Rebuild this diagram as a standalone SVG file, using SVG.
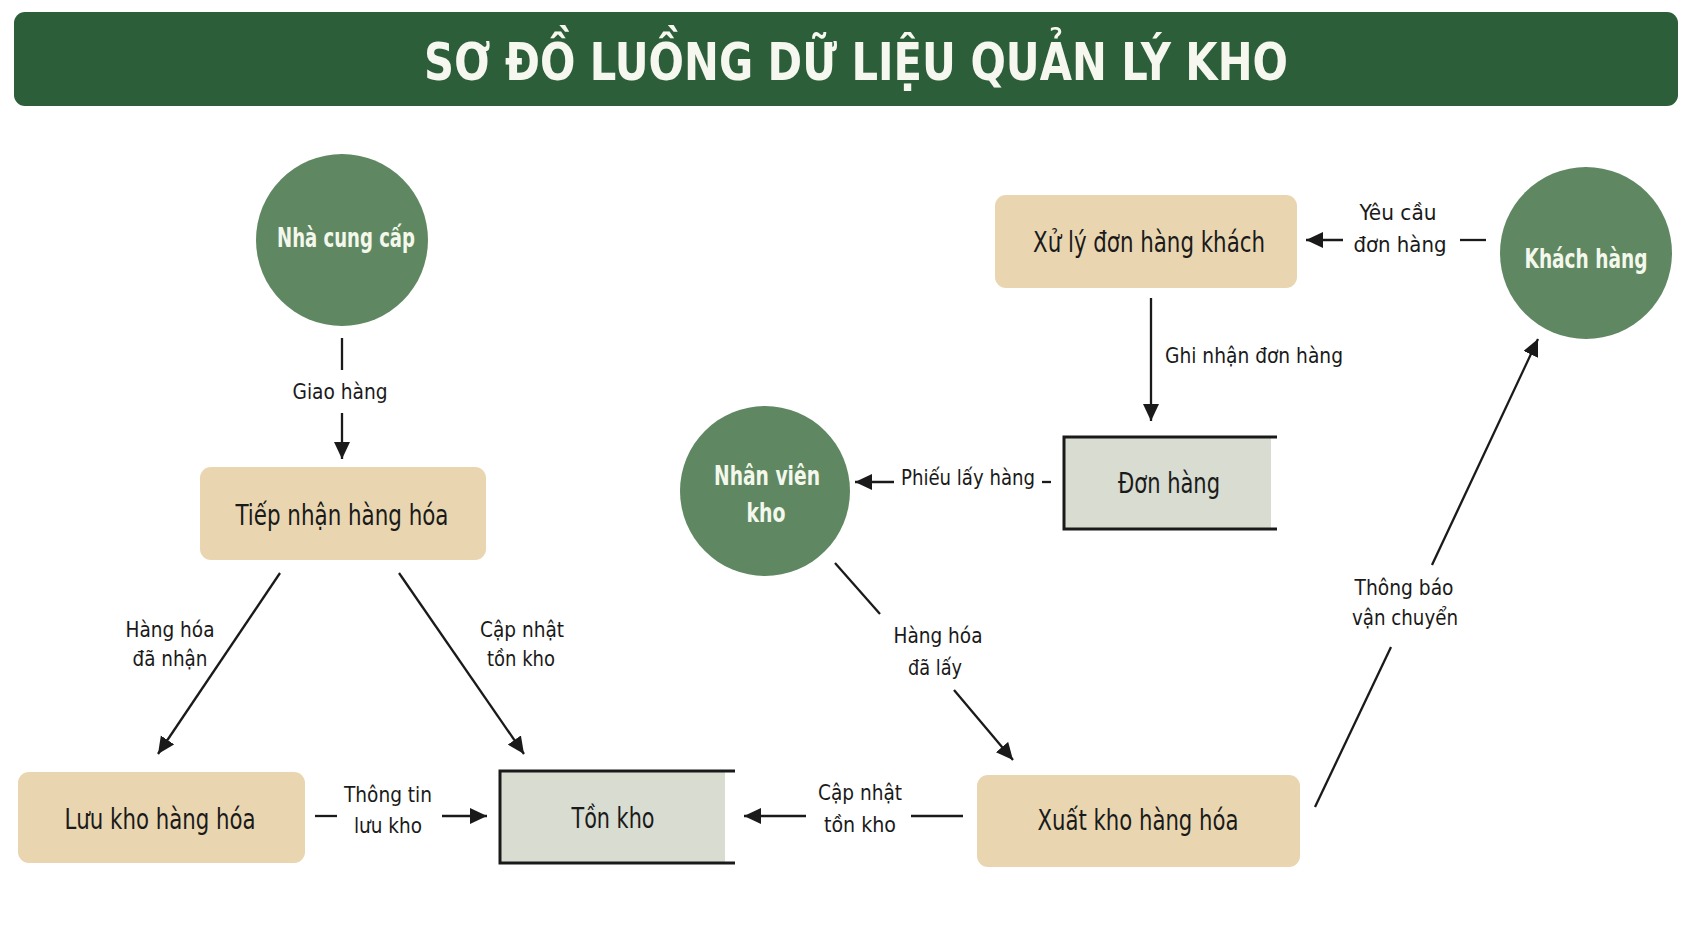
<svg xmlns="http://www.w3.org/2000/svg" width="1693" height="929" viewBox="0 0 1693 929">
<style>
text{font-family:"Liberation Sans Narrow","DejaVu Sans Condensed","Liberation Sans",sans-serif;}
.title{font-size:52px;font-weight:bold;fill:#F6F8F0;}
.box{fill:#E9D6B1;}
.store{fill:#D8DCD1;}
.storeline{stroke:#1A1A1A;stroke-width:3;fill:none;}
.circ{fill:#5F8862;}
.nt{font-size:28px;fill:#1A1A1A;text-anchor:middle;}
.ct{font-size:27px;font-weight:bold;fill:#F4F8EC;text-anchor:middle;}
.lbl{font-size:22px;fill:#1A1A1A;text-anchor:middle;}
.ln{stroke:#1A1A1A;stroke-width:2.3;fill:none;}
.ar{stroke:#1A1A1A;stroke-width:2.3;fill:none;marker-end:url(#ah);}
</style>
<defs>
<marker id="ah" markerUnits="userSpaceOnUse" markerWidth="18" markerHeight="18" refX="17" refY="8" orient="auto">
<path d="M0,0 L17,8 L0,16 z" fill="#1A1A1A"/>
</marker>
</defs>
<rect width="1693" height="929" fill="#FFFFFF"/>
<g id="title">
<rect x="14" y="12" width="1664" height="94" rx="11" fill="#2D5E3A"/>
<text class="title" x="856" y="80" text-anchor="middle" textLength="864" lengthAdjust="spacingAndGlyphs">SƠ ĐỒ LUỒNG DỮ LIỆU QUẢN LÝ KHO</text>
</g>
<g id="connectors">
<line class="ln" x1="342" y1="338" x2="342" y2="370"/>
<line class="ar" x1="342" y1="413" x2="342" y2="459"/>
<text class="lbl" x="340" y="399" textLength="95" lengthAdjust="spacingAndGlyphs">Giao hàng</text>

<line class="ar" x1="280" y1="573" x2="158" y2="754"/>
<text class="lbl" x="170" y="637" textLength="89" lengthAdjust="spacingAndGlyphs">Hàng hóa</text>
<text class="lbl" x="170" y="666" textLength="75" lengthAdjust="spacingAndGlyphs">đã nhận</text>

<line class="ar" x1="399" y1="573" x2="524" y2="754"/>
<text class="lbl" x="522" y="637" textLength="84" lengthAdjust="spacingAndGlyphs">Cập nhật</text>
<text class="lbl" x="521" y="666" textLength="68" lengthAdjust="spacingAndGlyphs">tồn kho</text>

<line class="ln" x1="315" y1="816" x2="337" y2="816"/>
<line class="ar" x1="442" y1="816" x2="487" y2="816"/>
<text class="lbl" x="388" y="802" textLength="88" lengthAdjust="spacingAndGlyphs">Thông tin</text>
<text class="lbl" x="388" y="833" textLength="68" lengthAdjust="spacingAndGlyphs">lưu kho</text>

<line class="ln" x1="911" y1="816" x2="963" y2="816"/>
<line class="ar" x1="806" y1="816" x2="744" y2="816"/>
<text class="lbl" x="860" y="800" textLength="84" lengthAdjust="spacingAndGlyphs">Cập nhật</text>
<text class="lbl" x="860" y="832" textLength="72" lengthAdjust="spacingAndGlyphs">tồn kho</text>

<line class="ar" x1="1151" y1="298" x2="1151" y2="421"/>
<text class="lbl" x="1165" y="363" style="text-anchor:start" textLength="178" lengthAdjust="spacingAndGlyphs">Ghi nhận đơn hàng</text>

<line class="ar" x1="894" y1="482" x2="855" y2="482"/>
<line class="ln" x1="1042" y1="482" x2="1051" y2="482"/>
<text class="lbl" x="901" y="485" style="text-anchor:start" textLength="134" lengthAdjust="spacingAndGlyphs">Phiếu lấy hàng</text>

<line class="ln" x1="835" y1="563" x2="880" y2="614"/>
<line class="ar" x1="954" y1="690" x2="1013" y2="760"/>
<text class="lbl" x="938" y="643" textLength="89" lengthAdjust="spacingAndGlyphs">Hàng hóa</text>
<text class="lbl" x="935" y="675" textLength="54" lengthAdjust="spacingAndGlyphs">đã lấy</text>

<line class="ln" x1="1315" y1="807" x2="1391" y2="647"/>
<line class="ar" x1="1432" y1="565" x2="1538" y2="339"/>
<text class="lbl" x="1404" y="595" textLength="99" lengthAdjust="spacingAndGlyphs">Thông báo</text>
<text class="lbl" x="1405" y="625" textLength="106" lengthAdjust="spacingAndGlyphs">vận chuyển</text>

<line class="ar" x1="1343" y1="240" x2="1306" y2="240"/>
<line class="ln" x1="1460" y1="240" x2="1486" y2="240"/>
<text class="lbl" x="1398" y="220" textLength="77" lengthAdjust="spacingAndGlyphs">Yêu cầu</text>
<text class="lbl" x="1400" y="252" textLength="93" lengthAdjust="spacingAndGlyphs">đơn hàng</text>
</g>
<g id="nha-cung-cap">
<circle class="circ" cx="342" cy="240" r="86"/>
<text class="ct" x="346" y="247" textLength="138" lengthAdjust="spacingAndGlyphs">Nhà cung cấp</text>
</g>
<g id="tiep-nhan">
<rect class="box" x="200" y="467" width="286" height="93" rx="11"/>
<text class="nt" x="342" y="525" textLength="213" lengthAdjust="spacingAndGlyphs">Tiếp nhận hàng hóa</text>
</g>
<g id="luu-kho">
<rect class="box" x="18" y="772" width="287" height="91" rx="11"/>
<text class="nt" x="160" y="829" textLength="191" lengthAdjust="spacingAndGlyphs">Lưu kho hàng hóa</text>
</g>
<g id="ton-kho">
<rect class="store" x="500" y="771" width="225" height="92"/>
<path class="storeline" d="M735,771 H500 V863 H735"/>
<text class="nt" x="613" y="828" textLength="83" lengthAdjust="spacingAndGlyphs">Tồn kho</text>
</g>
<g id="xuat-kho">
<rect class="box" x="977" y="775" width="323" height="92" rx="11"/>
<text class="nt" x="1138" y="830" textLength="201" lengthAdjust="spacingAndGlyphs">Xuất kho hàng hóa</text>
</g>
<g id="nhan-vien-kho">
<circle class="circ" cx="765" cy="491" r="85"/>
<text class="ct" x="767" y="485" textLength="106" lengthAdjust="spacingAndGlyphs">Nhân viên</text>
<text class="ct" x="766" y="522" textLength="39" lengthAdjust="spacingAndGlyphs">kho</text>
</g>
<g id="don-hang">
<rect class="store" x="1064" y="437" width="207" height="92"/>
<path class="storeline" d="M1277,437 H1064 V529 H1277"/>
<text class="nt" x="1169" y="493" textLength="102" lengthAdjust="spacingAndGlyphs">Đơn hàng</text>
</g>
<g id="xu-ly-don-hang">
<rect class="box" x="995" y="195" width="302" height="93" rx="11"/>
<text class="nt" x="1149" y="252" textLength="232" lengthAdjust="spacingAndGlyphs">Xử lý đơn hàng khách</text>
</g>
<g id="khach-hang">
<circle class="circ" cx="1586" cy="253" r="86"/>
<text class="ct" x="1586" y="268" textLength="123" lengthAdjust="spacingAndGlyphs">Khách hàng</text>
</g>
</svg>
